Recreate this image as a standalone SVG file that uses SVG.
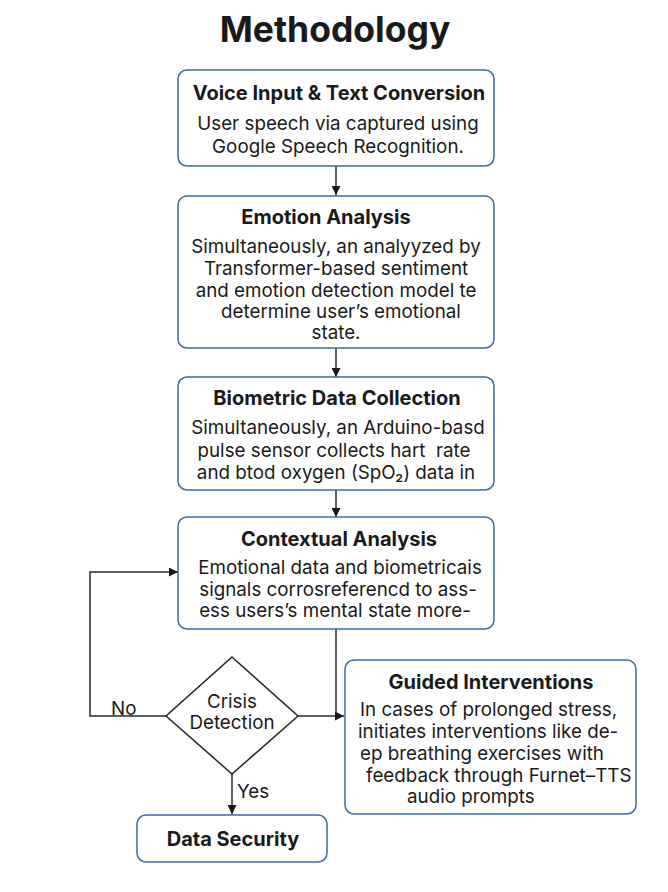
<svg xmlns="http://www.w3.org/2000/svg" width="668" height="892" viewBox="0 0 668 892">
<style>
.box{fill:#fff;stroke:#3a6ba3;stroke-width:1.5}
.dia{fill:#fff;stroke:#222;stroke-width:1.5}
.t{font-family:Inter,"Liberation Sans",Arial,sans-serif;font-weight:bold;font-size:20px;fill:#1a1a1a;text-anchor:middle}
.b{font-family:Inter,"Liberation Sans",Arial,sans-serif;font-size:18.8px;fill:#1a1a1a;text-anchor:middle}
.bl{font-family:Inter,"Liberation Sans",Arial,sans-serif;font-size:18.8px;fill:#1a1a1a}
.c{fill:none;stroke:#2a2a2a;stroke-width:1.5}
</style>
<defs>
<marker id="ah" viewBox="0 0 10 10" refX="10" refY="5" markerWidth="9" markerHeight="9" markerUnits="userSpaceOnUse" orient="auto">
<path d="M0,0 L10,5 L0,10 z" fill="#1a1a1a"/>
</marker>
</defs>
<rect width="668" height="892" fill="#fff"/>
<text x="335" y="42" font-family="Inter,'Liberation Sans',Arial,sans-serif" font-weight="bold" font-size="35.5" fill="#1a1a1a" text-anchor="middle">Methodology</text>

<g id="connectors">
<line class="c" x1="336" y1="166" x2="336" y2="195" marker-end="url(#ah)"/>
<line class="c" x1="336" y1="348" x2="336" y2="377" marker-end="url(#ah)"/>
<line class="c" x1="336" y1="490" x2="336" y2="517" marker-end="url(#ah)"/>
<polyline class="c" points="336,629 336,716"/>
<line class="c" x1="298" y1="716" x2="344" y2="716" marker-end="url(#ah)"/>
<polyline class="c" points="166,716 90,716 90,572 178,572" marker-end="url(#ah)"/>
<line class="c" x1="232" y1="774" x2="232" y2="814" marker-end="url(#ah)"/>
<text class="bl" x="111" y="715">No</text>
<text class="bl" x="237" y="798">Yes</text>
</g>

<g id="voice-input">
<rect class="box" x="178" y="70" width="316" height="96" rx="9"/>
<text class="t" x="339" y="100">Voice Input &amp; Text Conversion</text>
<text class="b" x="338" y="130">User speech via captured using</text>
<text class="b" x="338" y="153">Google Speech Recognition.</text>
</g>

<g id="emotion-analysis">
<rect class="box" x="178" y="196" width="316" height="152" rx="9"/>
<text class="t" x="326" y="224">Emotion Analysis</text>
<text class="b" x="336" y="253">Simultaneously, an analyyzed by</text>
<text class="b" x="336" y="275">Transformer-based sentiment</text>
<text class="b" x="336" y="297">and emotion detection model te</text>
<text class="b" x="341" y="318">determine user’s emotional</text>
<text class="b" x="336" y="339">state.</text>
</g>

<g id="biometric">
<rect class="box" x="178" y="377" width="316" height="113" rx="9"/>
<text class="t" x="337" y="405">Biometric Data Collection</text>
<text class="b" x="338" y="434">Simultaneously, an Arduino-basd</text>
<text class="b" x="334" y="457">pulse sensor collects hart&#160; rate</text>
<text class="b" x="336" y="479">and btod oxygen (SpO₂) data in</text>
</g>

<g id="contextual">
<rect class="box" x="178" y="517" width="316" height="112" rx="9"/>
<text class="t" x="339" y="546">Contextual Analysis</text>
<text class="b" x="340" y="574">Emotional data and biometricais</text>
<text class="b" x="338" y="596">signals corrosreferencd to ass-</text>
<text class="b" x="335" y="617">ess users’s mental state more-</text>
</g>

<g id="crisis">
<polygon class="dia" points="232,657 298,716 232,774 166,716"/>
<text class="b" x="232" y="708">Crisis</text>
<text class="b" x="232" y="729">Detection</text>
</g>

<g id="guided">
<rect class="box" x="345" y="660" width="291" height="154" rx="9"/>
<text class="t" x="491" y="689">Guided Interventions</text>
<text class="bl" x="360" y="716">In cases of prolonged stress,</text>
<text class="bl" x="358" y="738">initiates interventions like de-</text>
<text class="bl" x="360" y="760">ep breathing exercises with</text>
<text class="bl" x="366" y="782">feedback through Furnet–TTS</text>
<text class="bl" x="407" y="803">audio prompts</text>
</g>

<g id="data-security">
<rect class="box" x="137" y="815" width="190" height="47" rx="9"/>
<text class="t" x="233" y="846">Data Security</text>
</g>
</svg>
